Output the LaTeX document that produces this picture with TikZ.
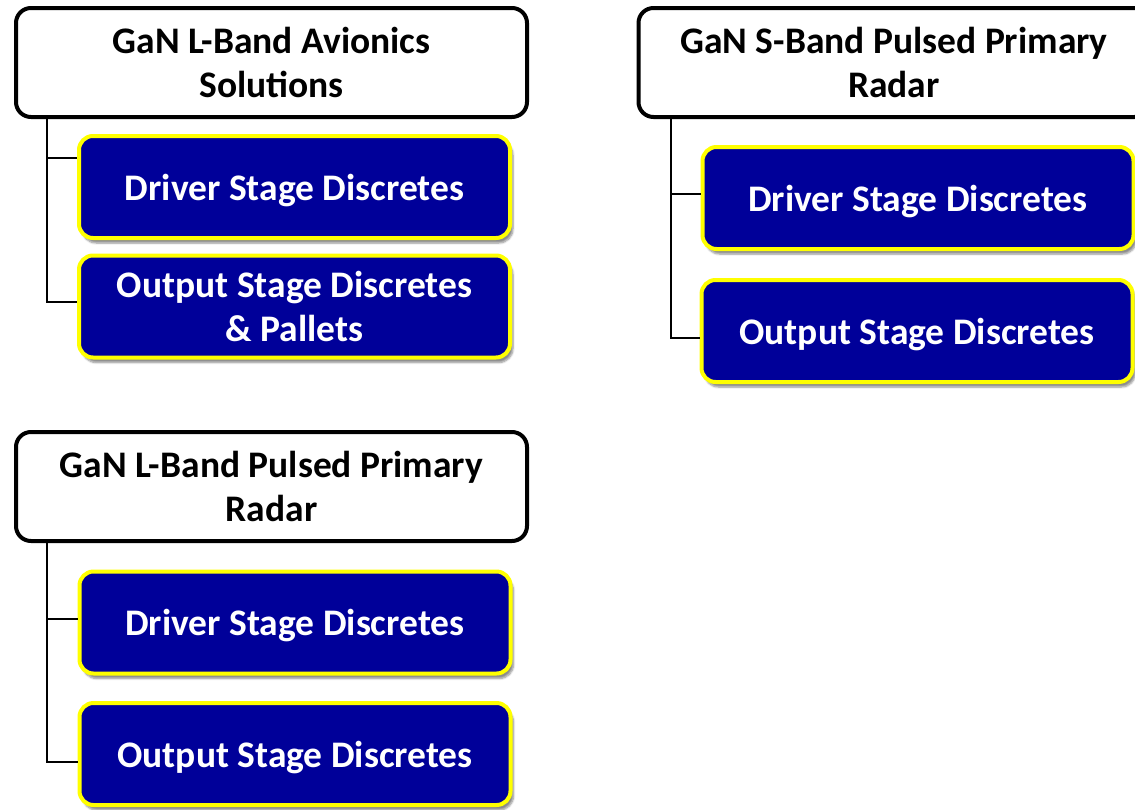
\documentclass[tikz,border=0pt]{standalone}
\usepackage{fontspec}
\setmainfont{Carlito}
\usetikzlibrary{shadows.blur}
\definecolor{boxblue}{RGB}{0,0,153}
\definecolor{boxyellow}{RGB}{255,255,0}
\tikzset{
  header/.style={draw=black, line width=4pt, fill=white, rounded corners=15pt,
    minimum width=511pt, minimum height=109pt, inner sep=0pt, align=center,
    font=\fontsize{37.5}{44}\selectfont\bfseries, text=black},
  item/.style={draw=boxyellow, line width=4pt, fill=boxblue, rounded corners=14pt,
    minimum width=431pt, minimum height=102pt, inner sep=0pt, align=center,
    text depth=0pt,
    font=\fontsize{37.5}{44}\selectfont\bfseries, text=white,
    blur shadow={shadow xshift=3pt, shadow yshift=-5pt, shadow blur steps=6, shadow opacity=45}},
  link/.style={draw=black, line width=2pt}
}
\begin{document}
\begin{tikzpicture}[x=1pt, y=-1pt]
\useasboundingbox (0,0) rectangle (1135,809);
% L-Band Avionics
\node[header] (hL) at (271.5,62.5) {GaN L-Band Avionics\\Solutions};
\node[item] (dL) at (294.5,187) {Driver Stage Discretes};
\node[item] (oL) at (294.5,306.5) {Output Stage Discretes\\\& Pallets};
\draw[link] ([xshift=33pt]hL.south west) |- ([yshift=29pt]dL.west);
\draw[link] ([xshift=33pt]hL.south west) |- ([yshift=4.5pt]oL.west);
% S-Band
\node[header] (hS) at (894,62.5) {GaN S-Band Pulsed Primary\\Radar};
\node[item] (dS) at (918,198) {Driver Stage Discretes};
\node[item] (oS) at (917,331) {Output Stage Discretes};
\draw[link] ([xshift=34pt]hS.south west) |- ([yshift=4pt]dS.west);
\draw[link] ([xshift=34pt]hS.south west) |- ([yshift=-7pt]oS.west);
% L-Band Pulsed
\node[header] (hP) at (271.5,486.5) {GaN L-Band Pulsed Primary\\Radar};
\node[item] (dP) at (295,622.5) {Driver Stage Discretes};
\node[item] (oP) at (295,754) {Output Stage Discretes};
\draw[link] ([xshift=33pt]hP.south west) |- ([yshift=3.5pt]dP.west);
\draw[link] ([xshift=33pt]hP.south west) |- ([yshift=-8pt]oP.west);
\end{tikzpicture}
\end{document}
